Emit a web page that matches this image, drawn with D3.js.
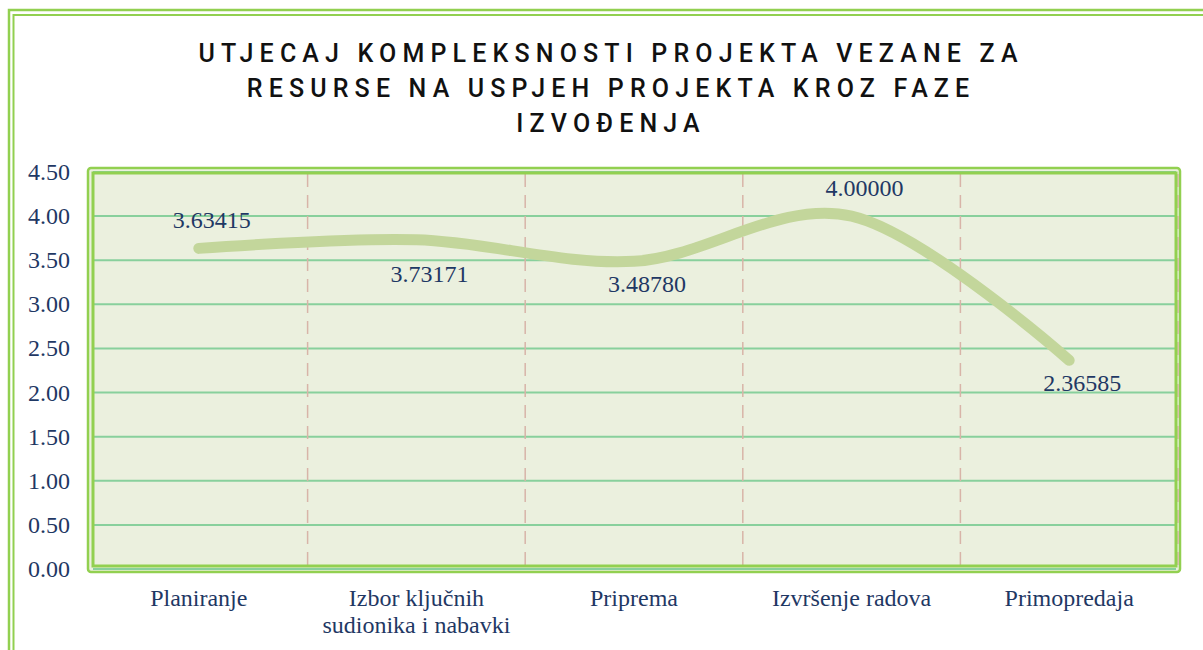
<!DOCTYPE html>
<html>
<head>
<meta charset="utf-8">
<script src="https://cdn.jsdelivr.net/npm/d3@7"></script>
<style>
  body { margin: 0; background: #fff; }
  svg { display: block; }
</style>
</head>
<body>
<svg id="chart" width="1203" height="650"></svg>
<script>
// chart data
var titleLines = ["UTJECAJ KOMPLEKSNOSTI PROJEKTA VEZANE ZA", "RESURSE NA USPJEH PROJEKTA KROZ FAZE", "IZVOĐENJA"];
var categories = [["Planiranje"], ["Izbor ključnih", "sudionika i nabavki"], ["Priprema"], ["Izvršenje radova"], ["Primopredaja"]];
var values = [3.63415, 3.73171, 3.48780, 4.00000, 2.36585];
var labelSide = ["above", "below", "below", "above", "below"];
var yTicks = [0, 0.5, 1, 1.5, 2, 2.5, 3, 3.5, 4, 4.5];

var svg = d3.select("#chart");
var navy = "#1f3864";
var green = "#92d050";

// outer frame (double line)
svg.append("rect").attr("x", 9).attr("y", 10).attr("width", 1220).attr("height", 680)
	.attr("fill", "none").attr("stroke", green).attr("stroke-width", 2.5);
svg.append("rect").attr("x", 13.5).attr("y", 15).attr("width", 1220).attr("height", 680)
	.attr("fill", "none").attr("stroke", green).attr("stroke-width", 2);

// title
var title = svg.append("g").attr("font-family", "Roboto").attr("font-size", 25).attr("font-weight", 500)
	.attr("fill", "#111").attr("text-anchor", "middle");
var tl = title.selectAll("text").data(titleLines).enter().append("text")
	.attr("x", 608).attr("y", function(d, i){ return 62 + i * 35; })
	.text(function(d){ return d; });
// fit letter spacing to the first line width
var w0 = tl.node().getComputedTextLength();
var sp = (819 - w0) / (titleLines[0].length - 1);
tl.attr("letter-spacing", sp).attr("dx", sp / 2);

// scales
var x = d3.scaleBand().domain(d3.range(values.length)).range([90, 1178]);
var y = d3.scaleLinear().domain([0, 4.5]).range([569, 172]);

// plot area
svg.append("rect").attr("x", 88).attr("y", 168).attr("width", 1092).attr("height", 404).attr("rx", 3)
	.attr("fill", "#ebf0de").attr("stroke", green).attr("stroke-width", 2.5);

var grid = svg.append("g");
grid.selectAll("line.h").data(yTicks).enter().append("line").attr("class", "h")
	.attr("x1", 93).attr("x2", 1176)
	.attr("y1", function(d){ return y(d); }).attr("y2", function(d){ return y(d); })
	.attr("stroke", "#88d09c").attr("stroke-width", 2);
grid.selectAll("line.v").data(d3.range(1, values.length + 1)).enter().append("line").attr("class", "v")
	.attr("x1", function(d){ return x.step() * d + 90; }).attr("x2", function(d){ return x.step() * d + 90; })
	.attr("y1", 174).attr("y2", 567)
	.attr("stroke", "#d8b4a8").attr("stroke-width", 1.5).attr("stroke-dasharray", "13,8");

svg.append("rect").attr("x", 93).attr("y", 173).attr("width", 1083).attr("height", 393)
	.attr("fill", "none").attr("stroke", green).attr("stroke-width", 3);

// y axis labels
svg.append("g").attr("font-family", "Liberation Serif").attr("font-size", 24).attr("fill", navy)
	.attr("text-anchor", "end")
	.selectAll("text").data(yTicks).enter().append("text")
	.attr("x", 70).attr("y", function(d){ return y(d) + 8; })
	.text(function(d){ return d3.format(".2f")(d); });

// category labels
var cat = svg.append("g").attr("font-family", "Liberation Serif").attr("font-size", 24).attr("fill", navy)
	.attr("text-anchor", "middle");
categories.forEach(function(lines, i){
	lines.forEach(function(t, j){
		cat.append("text").attr("x", x(i) + x.bandwidth() / 2).attr("y", 606 + j * 27).text(t);
	});
});

// line
var line = d3.line()
	.x(function(d, i){ return x(i) + x.bandwidth() / 2; })
	.y(function(d){ return y(d); })
	.curve(d3.curveCardinal.tension(0));
svg.append("path").datum(values).attr("d", line)
	.attr("fill", "none").attr("stroke", "#c3d69b").attr("stroke-width", 11)
	.attr("stroke-linecap", "round");

// data labels
svg.append("g").attr("font-family", "Liberation Serif").attr("font-size", 24).attr("fill", navy)
	.attr("text-anchor", "middle")
	.selectAll("text").data(values).enter().append("text")
	.attr("x", function(d, i){ return x(i) + x.bandwidth() / 2 + 13; })
	.attr("y", function(d, i){
		if (labelSide[i] == "above") return y(d) - 20;
		return y(d) + (i == 1 ? 42 : 31);
	})
	.text(function(d){ return d3.format(".5f")(d); });
</script>
</body>
</html>
